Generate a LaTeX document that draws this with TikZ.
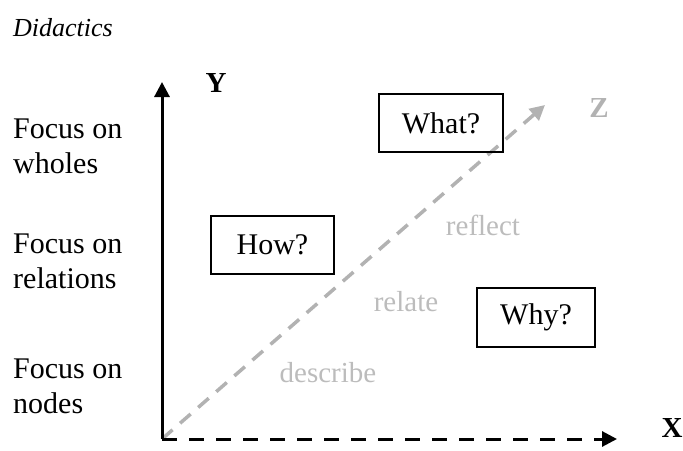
\documentclass[tikz,border=0pt]{standalone}
\usepackage{fontspec}
\setmainfont{Liberation Serif}
\usetikzlibrary{arrows.meta}
\definecolor{axgray}{RGB}{178,178,178}
\definecolor{lblgray}{RGB}{188,188,188}
\begin{document}
\begin{tikzpicture}[x=1pt,y=-1pt,
  lbl/.style={inner sep=0pt,font=\fontsize{30}{35}\selectfont},
  axlbl/.style={inner sep=0pt,font=\fontsize{29}{34}\selectfont\bfseries},
  qbox/.style={draw,line width=1.6pt,inner sep=0pt,font=\fontsize{30}{35}\selectfont},
  verb/.style={inner sep=0pt,text=lblgray,font=\fontsize{29}{34}\selectfont},
  tip/.style={-{Triangle[length=15pt,width=15pt]}}]
\useasboundingbox (0,0) rectangle (683,450);
% title
\node[inner sep=0pt,font=\fontsize{26}{30}\selectfont\itshape] (title) at (63,28) {Didactics};
% left labels
\node[lbl,anchor=base west] (l1a) at (13,138) {Focus on};
\node[lbl,anchor=base west] (l1b) at (13,173) {wholes};
\node[lbl,anchor=base west] (l2a) at (13,253) {Focus on};
\node[lbl,anchor=base west] (l2b) at (13,288) {relations};
\node[lbl,anchor=base west] (l3a) at (13,378) {Focus on};
\node[lbl,anchor=base west] (l3b) at (13,413) {nodes};
% axes
\coordinate (O) at (162,439);
\coordinate (Ytip) at (162,82);
\coordinate (Xtip) at (617,439);
\coordinate (Ztip) at (545,105);
\draw[axgray,line width=3.5pt,dash pattern=on 14pt off 10pt,tip] (O) -- (Ztip);
\draw[line width=3pt,tip] (O) -- (Ytip);
\draw[line width=3pt,dash pattern=on 15pt off 12pt,tip] (O) -- (Xtip);
\node[axlbl] (Y) at (216,83) {Y};
\node[axlbl] (X) at (672,428) {X};
\node[axlbl,text=axgray] (Z) at (599,108) {Z};
% boxes
\node[qbox,minimum width=124pt,minimum height=58pt] (what) at (441,123) {What?};
\node[qbox,minimum width=123pt,minimum height=58pt] (how) at (272.5,245) {How?};
\node[qbox,minimum width=118pt,minimum height=59pt] (why) at (536,317.5) {Why?};
% verbs
\node[verb] (reflect) at (483,225) {reflect};
\node[verb] (relate) at (406,302) {relate};
\node[verb] (describe) at (328,373) {describe};
\end{tikzpicture}
\end{document}
